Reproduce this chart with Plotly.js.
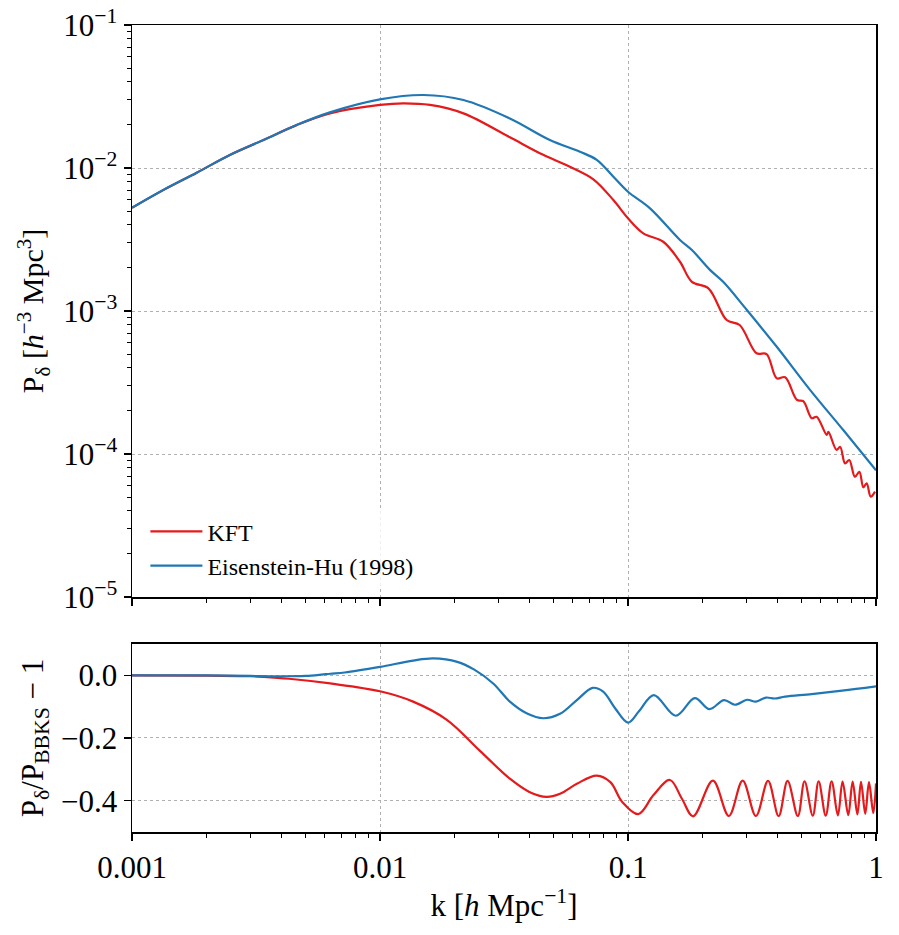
<!DOCTYPE html>
<html><head><meta charset="utf-8">
<script src="https://cdn.plot.ly/plotly-3.0.1.min.js"></script>
<style>body{margin:0;background:#fff}#plot{width:899px;height:935px}</style>
</head><body><div id="plot"></div>
<script>
// ---- data ----
const kEH_top = [0.001,0.001336,0.001824,0.00248,0.00339,0.00461,0.00628,0.01,0.01496,0.0217,0.0334,0.0484,0.064,0.0748,0.0873,0.100,0.1227,0.162,0.181,0.214,0.242,0.301,0.398,0.542,0.738,1.0];
const pEH_top = [5.27e-3,7.02e-3,9.27e-3,1.233e-2,1.57e-2,2.0e-2,2.45e-2,3.02e-2,3.24e-2,2.99e-2,2.22e-2,1.57e-2,1.30e-2,1.14e-2,8.69e-3,6.82e-3,5.22e-3,3.14e-3,2.67e-3,1.94e-3,1.60e-3,1.02e-3,5.62e-4,2.81e-4,1.47e-4,7.7e-5];

const kKFT_top = [0.001,0.001336,0.001824,0.00248,0.00339,0.00461,0.00628,0.01,0.0124,0.0159,0.0217,0.0334,0.0441,0.0583,0.0725,0.0873,0.100,0.1153,0.1387,0.162,0.181,0.211,0.25,0.282,0.330,0.362,0.398,0.430,0.48,0.509,0.551,0.576,0.633,0.643,0.693,0.717,0.750,0.780,0.822,0.857,0.889,0.917,0.952,0.991];
const pKFT_top = [5.27e-3,7.0e-3,9.27e-3,1.233e-2,1.57e-2,1.995e-2,2.41e-2,2.76e-2,2.83e-2,2.76e-2,2.41e-2,1.64e-2,1.27e-2,1.02e-2,8.34e-3,5.97e-3,4.45e-3,3.49e-3,3.05e-3,2.21e-3,1.60e-3,1.44e-3,8.65e-4,7.98e-4,5.06e-4,5.0e-4,3.38e-4,3.44e-4,2.39e-4,2.34e-4,1.78e-4,1.82e-4,1.36e-4,1.43e-4,1.07e-4,1.12e-4,8.6e-5,9.08e-5,6.93e-5,7.5e-5,5.85e-5,6.24e-5,5.04e-5,5.46e-5];

const kEH_ratio = [0.001,0.002,0.003,0.004,0.005,0.0058,0.0063,0.0072,0.01,0.0136,0.0164,0.0205,0.024,0.0286,0.0334,0.039,0.0456,0.0532,0.0622,0.072,0.0794,0.0887,0.100,0.1107,0.127,0.156,0.186,0.213,0.244,0.27,0.302,0.328,0.36,0.39,0.43,0.55,0.73,1.0];
const rEH_ratio = [0,0,-0.002,-0.003,-0.002,0.002,0.005,0.009,0.027,0.047,0.054,0.043,0.018,-0.026,-0.084,-0.121,-0.137,-0.123,-0.079,-0.040,-0.052,-0.105,-0.151,-0.115,-0.063,-0.129,-0.073,-0.108,-0.079,-0.094,-0.078,-0.084,-0.071,-0.074,-0.068,-0.060,-0.049,-0.035];

const kKFT_ratio = [0.001,0.002,0.003,0.0034,0.0043,0.0063,0.01,0.0136,0.0186,0.0253,0.0334,0.04,0.047,0.0532,0.0622,0.0748,0.0849,0.0948,0.110,0.1265,0.1476,0.165,0.183,0.220,0.255,0.29,0.328,0.367,0.405,0.44,0.484,0.515,0.556,0.587,0.627,0.662,0.702,0.733,0.773,0.805,0.841,0.87,0.905,0.937,0.975,1.0];
const rKFT_ratio = [0,-0.001,-0.003,-0.005,-0.011,-0.026,-0.051,-0.084,-0.142,-0.241,-0.330,-0.372,-0.388,-0.378,-0.346,-0.320,-0.341,-0.404,-0.443,-0.383,-0.334,-0.394,-0.450,-0.336,-0.449,-0.336,-0.449,-0.337,-0.449,-0.337,-0.449,-0.338,-0.448,-0.338,-0.448,-0.338,-0.447,-0.339,-0.446,-0.339,-0.444,-0.340,-0.442,-0.341,-0.440,-0.345];

const xTickVals = [0.001,0.01,0.1,1];
const xTickText = ['0.001','0.01','0.1','1'];
const yTopTickVals = [1e-5,1e-4,1e-3,1e-2,1e-1];
const yTopTickText = ['10<sup>−5</sup>','10<sup>−4</sup>','10<sup>−3</sup>','10<sup>−2</sup>','10<sup>−1</sup>'];
const yBotTickVals = [0,-0.2,-0.4];
const yBotTickText = ['0.0','−0.2','−0.4'];
const seriesNames = ['KFT','Eisenstein-Hu (1998)'];

// minor tick positions (2..9 per decade)
function minors(lo, hi){const a=[];for(let e=lo;e<hi;e++){for(let m=2;m<=9;m++)a.push(m*Math.pow(10,e));}return a;}

const RED = '#e41a1c', BLUE = '#1f77b4';
const FONT = 'Liberation Serif, DejaVu Serif, serif';

const traces = [
 {x:kKFT_top, y:pKFT_top, name:seriesNames[0], mode:'lines', line:{color:RED,width:2.2,shape:'spline',smoothing:1}, xaxis:'x', yaxis:'y'},
 {x:kEH_top, y:pEH_top, name:seriesNames[1], mode:'lines', line:{color:BLUE,width:2.2,shape:'spline',smoothing:1}, xaxis:'x', yaxis:'y'},
 {x:kKFT_ratio, y:rKFT_ratio, showlegend:false, mode:'lines', line:{color:RED,width:2.2,shape:'spline',smoothing:1}, xaxis:'x2', yaxis:'y2'},
 {x:kEH_ratio, y:rEH_ratio, showlegend:false, mode:'lines', line:{color:BLUE,width:2.2,shape:'spline',smoothing:1}, xaxis:'x2', yaxis:'y2'}
];

const axCommon = {showline:true, linecolor:'black', linewidth:1.5, mirror:true, ticks:'outside', ticklen:7, tickwidth:1.3, tickcolor:'black',
  showgrid:true, gridcolor:'#b0b0b0', griddash:'dot', gridwidth:1, zeroline:false, tickfont:{family:FONT,size:31,color:'black'}};

const layout = {
 width:899, height:935, paper_bgcolor:'white', plot_bgcolor:'white',
 margin:{l:132, r:23, t:25, b:103},
 showlegend:true,
 legend:{x:0.018, y:0.302, xanchor:'left', yanchor:'bottom', bgcolor:'rgba(255,255,255,0.8)', borderwidth:0,
   font:{family:FONT,size:24,color:'black'}, tracegroupgap:0, itemwidth:52},
 xaxis:Object.assign({}, axCommon, {type:'log', range:[-3,0], domain:[0,1], anchor:'y', matches:'x2',
   tickvals:xTickVals, ticktext:xTickText, showticklabels:false,
   minor:{tickvals:minors(-3,0), ticks:'outside', ticklen:4, tickwidth:1, tickcolor:'black', showgrid:false}}),
 yaxis:Object.assign({}, axCommon, {type:'log', range:[-5,-1], domain:[0.2912,1], anchor:'x',
   tickvals:yTopTickVals, ticktext:yTopTickText,
   minor:{tickvals:minors(-5,-1), ticks:'outside', ticklen:4, tickwidth:1, tickcolor:'black', showgrid:false},
   title:{text:'P<sub>δ</sub> [<i>h</i><sup>−3</sup> Mpc<sup>3</sup>]', font:{family:FONT,size:30,color:'black'}, standoff:10}}),
 xaxis2:Object.assign({}, axCommon, {type:'log', range:[-3,0], domain:[0,1], anchor:'y2',
   tickvals:xTickVals, ticktext:xTickText,
   minor:{tickvals:minors(-3,0), ticks:'outside', ticklen:4, tickwidth:1, tickcolor:'black', showgrid:false},
   title:{text:'k [<i>h</i> Mpc<sup>−1</sup>]', font:{family:FONT,size:31,color:'black'}, standoff:10}}),
 yaxis2:Object.assign({}, axCommon, {range:[-0.5,0.1], domain:[0,0.233], anchor:'x2',
   tickvals:yBotTickVals, ticktext:yBotTickText,
   title:{text:'P<sub>δ</sub>/P<sub>BBKS</sub> − 1', font:{family:FONT,size:31,color:'black'}, standoff:8}})
};

Plotly.newPlot('plot', traces, layout, {staticPlot:true});
</script>
</body></html>
